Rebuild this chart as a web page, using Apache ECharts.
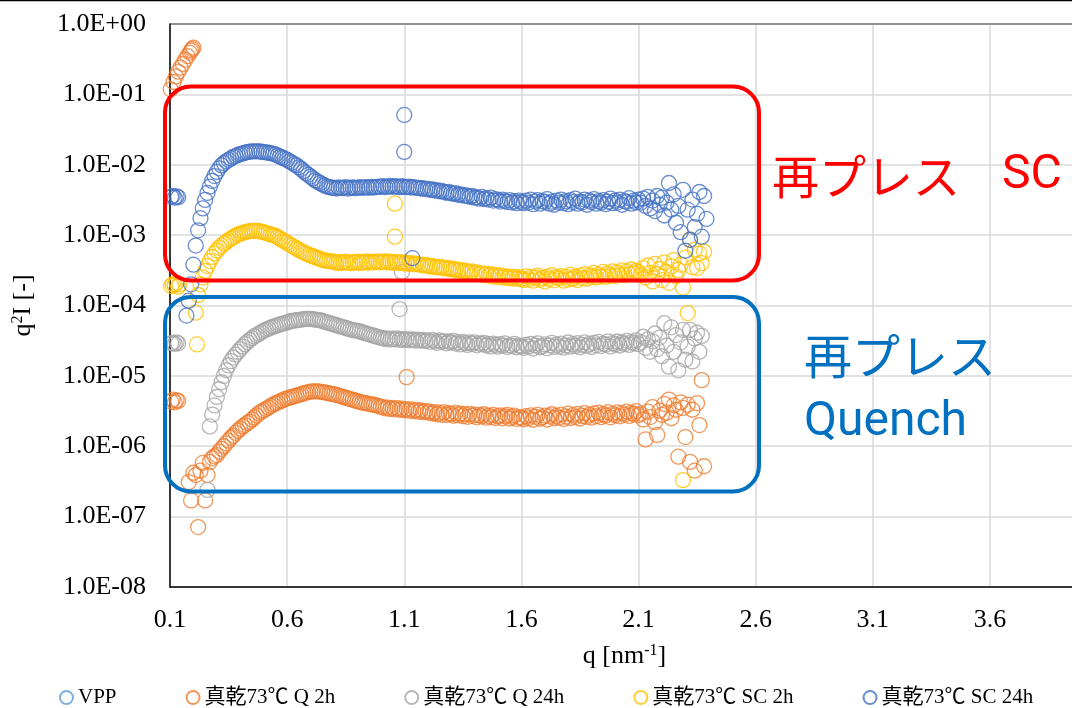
<!DOCTYPE html>
<html>
<head>
<meta charset="utf-8">
<script src="https://cdn.jsdelivr.net/npm/echarts@6/dist/echarts.min.js"></script>
<style>
html,body{margin:0;padding:0;background:#fff;}
#c{width:1072px;height:708px;}
</style>
</head>
<body>
<div id="c"></div>
<script>
// Shared q grid [nm^-1]
const Q = [
 0.17,0.18,0.19,0.20,0.21,0.22,0.23,0.24,0.25,0.26,
 0.27,0.28,0.29,0.30,0.31,0.32,0.33,0.34,0.35,0.36,
 0.37,0.38,0.39,0.40,0.41,0.42,0.43,0.44,0.45,0.46,
 0.47,0.48,0.49,0.50,0.51,0.52,0.53,0.54,0.55,0.56,
 0.57,0.58,0.59,0.60,0.61,0.62,0.63,0.64,0.65,0.66,
 0.67,0.68,0.69,0.70,0.71,0.72,0.73,0.74,0.75,0.76,
 0.77,0.78,0.79,0.80,0.81,0.82,0.83,0.84,0.85,0.86,
 0.87,0.88,0.89,0.90,0.91,0.92,0.93,0.94,0.95,0.96,
 0.97,0.98,0.99,1.00,1.01,1.02,1.03,1.04,1.05,1.06,
 1.07,1.08,1.09,1.10,1.11,1.12,1.13,1.14,1.15,1.16,
 1.17,1.18,1.19,1.20,1.21,1.22,1.23,1.24,1.25,1.26,
 1.27,1.28,1.29,1.30,1.31,1.32,1.33,1.34,1.35,1.36,
 1.37,1.38,1.39,1.40,1.41,1.42,1.43,1.44,1.45,1.46,
 1.47,1.48,1.49,1.50,1.51,1.52,1.53,1.54,1.55,1.56,
 1.57,1.58,1.59,1.60,1.61,1.62,1.63,1.64,1.65,1.66,
 1.67,1.68,1.69,1.70,1.71,1.72,1.73,1.74,1.75,1.76,
 1.77,1.78,1.79,1.80,1.81,1.82,1.83,1.84,1.85,1.86,
 1.87,1.88,1.89,1.90,1.91,1.92,1.93,1.94,1.95,1.96,
 1.97,1.98,1.99,2.00,2.01,2.02,2.03,2.04,2.05,2.06,
 2.07,2.08,2.09,2.10,2.11,2.12,2.13,2.14,2.15,2.16,
 2.17,2.18,2.19,2.20,2.21,2.22,2.23,2.24,2.25,2.26,
 2.27,2.28,2.29,2.30,2.31,2.32,2.33,2.34,2.35,2.36,
 2.37,2.38,2.39
];

// 真乾73℃ Q 2h (orange)
const Q2h = [
 null,3.1e-7,1.7e-7,4.2e-7,3.9e-7,7.1e-8,4.5e-7,5.8e-7,1.7e-7,3.9e-7,
 6.0e-7,6.8e-7,7.2e-7,7.5e-7,8.4e-7,9.2e-7,1.00e-6,1.10e-6,1.20e-6,1.32e-6,
 1.41e-6,1.55e-6,1.66e-6,1.78e-6,1.91e-6,2.00e-6,2.14e-6,2.24e-6,2.40e-6,2.57e-6,
 2.75e-6,2.95e-6,3.09e-6,3.24e-6,3.39e-6,3.55e-6,3.72e-6,3.89e-6,4.07e-6,4.17e-6,
 4.37e-6,4.47e-6,4.68e-6,4.79e-6,4.90e-6,5.01e-6,5.13e-6,5.25e-6,5.37e-6,5.50e-6,
 5.62e-6,5.75e-6,5.89e-6,5.96e-6,6.03e-6,6.03e-6,6.03e-6,5.96e-6,5.89e-6,5.82e-6,
 5.75e-6,5.62e-6,5.56e-6,5.50e-6,5.37e-6,5.25e-6,5.13e-6,5.01e-6,4.90e-6,4.79e-6,
 4.68e-6,4.57e-6,4.47e-6,4.37e-6,4.27e-6,4.17e-6,4.12e-6,4.07e-6,3.98e-6,3.94e-6,
 3.89e-6,3.80e-6,3.72e-6,3.63e-6,3.60e-6,3.45e-6,3.55e-6,3.38e-6,3.50e-6,3.35e-6,
 3.48e-6,3.30e-6,3.42e-6,3.25e-6,3.38e-6,3.20e-6,3.35e-6,3.15e-6,3.28e-6,3.10e-6,
 3.22e-6,3.05e-6,3.18e-6,3.02e-6,3.10e-6,2.92e-6,3.05e-6,2.85e-6,3.00e-6,2.80e-6,
 3.02e-6,2.78e-6,2.95e-6,2.88e-6,2.72e-6,2.98e-6,2.76e-6,2.90e-6,2.68e-6,2.85e-6,
 2.62e-6,2.88e-6,2.70e-6,2.82e-6,2.58e-6,2.78e-6,2.65e-6,2.85e-6,2.55e-6,2.72e-6,
 2.60e-6,2.80e-6,2.52e-6,2.68e-6,2.75e-6,2.50e-6,2.66e-6,2.78e-6,2.48e-6,2.62e-6,
 2.72e-6,2.45e-6,2.60e-6,2.55e-6,2.42e-6,2.68e-6,2.50e-6,2.75e-6,2.38e-6,2.62e-6,
 2.80e-6,2.46e-6,2.58e-6,2.72e-6,2.40e-6,2.66e-6,2.85e-6,2.50e-6,2.70e-6,2.55e-6,
 2.82e-6,2.45e-6,2.64e-6,2.90e-6,2.52e-6,2.76e-6,2.60e-6,2.88e-6,2.48e-6,2.70e-6,
 2.95e-6,2.62e-6,2.80e-6,2.55e-6,2.92e-6,2.68e-6,3.00e-6,2.60e-6,2.85e-6,2.72e-6,
 3.05e-6,2.58e-6,2.88e-6,2.75e-6,3.02e-6,2.66e-6,2.95e-6,2.80e-6,3.10e-6,2.70e-6,
 2.98e-6,2.85e-6,3.15e-6,2.78e-6,2.9e-6,2.4e-6,1.25e-6,3.1e-6,2.6e-6,3.6e-6,
 2.2e-6,1.45e-6,3.2e-6,2.8e-6,4.0e-6,3.0e-6,4.6e-6,2.5e-6,3.8e-6,3.3e-6,
 7.1e-7,4.2e-6,3.5e-6,1.35e-6,3.9e-6,6.0e-7,3.3e-6,4.5e-7,4.1e-6,2.0e-6,
 8.7e-6,5.2e-7,null
];
const Q2hExtra = [
 [0.103,0.118],[0.115,0.15],[0.125,0.18],[0.135,0.21],[0.145,0.24],[0.155,0.27],
 [0.165,0.31],[0.175,0.35],[0.185,0.39],[0.19,0.42],[0.195,0.44],[0.20,0.46],
 [0.105,4.3e-6],[0.112,4.6e-6],[0.12,4.2e-6],[0.128,4.5e-6],[0.135,4.4e-6],
 [1.11,9.6e-6]
];

// 真乾73℃ Q 24h (gray)
const Q24h = [
 null,null,null,null,null,null,null,null,null,null,
 1.91e-6,2.82e-6,3.80e-6,5.01e-6,6.46e-6,8.13e-6,1.00e-5,1.20e-5,1.41e-5,1.62e-5,
 1.82e-5,2.00e-5,2.19e-5,2.40e-5,2.60e-5,2.82e-5,3.02e-5,3.24e-5,3.43e-5,3.63e-5,
 3.80e-5,3.98e-5,4.17e-5,4.37e-5,4.52e-5,4.68e-5,4.84e-5,5.01e-5,5.13e-5,5.25e-5,
 5.37e-5,5.50e-5,5.62e-5,5.75e-5,5.89e-5,6.03e-5,6.10e-5,6.17e-5,6.24e-5,6.31e-5,
 6.38e-5,6.46e-5,6.46e-5,6.46e-5,6.38e-5,6.31e-5,6.24e-5,6.17e-5,6.03e-5,5.89e-5,
 5.75e-5,5.62e-5,5.50e-5,5.37e-5,5.25e-5,5.13e-5,5.01e-5,4.90e-5,4.79e-5,4.68e-5,
 4.57e-5,4.47e-5,4.42e-5,4.37e-5,4.27e-5,4.17e-5,4.07e-5,3.98e-5,3.89e-5,3.80e-5,
 3.72e-5,3.63e-5,3.55e-5,3.47e-5,3.45e-5,3.32e-5,3.40e-5,3.28e-5,3.38e-5,3.30e-5,
 3.42e-5,3.25e-5,3.35e-5,3.22e-5,3.33e-5,3.20e-5,3.30e-5,3.26e-5,3.15e-5,3.28e-5,
 3.18e-5,3.24e-5,3.12e-5,3.20e-5,3.05e-5,3.25e-5,3.10e-5,2.95e-5,3.18e-5,3.02e-5,
 3.12e-5,2.90e-5,3.08e-5,2.98e-5,3.15e-5,2.88e-5,3.02e-5,2.80e-5,3.05e-5,2.92e-5,
 2.75e-5,2.98e-5,2.85e-5,3.00e-5,2.72e-5,2.90e-5,2.82e-5,2.95e-5,2.70e-5,2.85e-5,
 2.62e-5,2.88e-5,2.75e-5,2.60e-5,2.82e-5,2.68e-5,2.90e-5,2.58e-5,2.72e-5,2.65e-5,
 2.85e-5,2.55e-5,2.70e-5,2.62e-5,2.50e-5,2.75e-5,2.60e-5,2.85e-5,2.45e-5,2.70e-5,
 2.90e-5,2.55e-5,2.65e-5,2.80e-5,2.48e-5,2.72e-5,2.95e-5,2.58e-5,2.78e-5,2.62e-5,
 2.88e-5,2.52e-5,2.70e-5,2.98e-5,2.60e-5,2.82e-5,2.66e-5,2.92e-5,2.55e-5,2.75e-5,
 3.00e-5,2.68e-5,2.85e-5,2.58e-5,2.95e-5,2.72e-5,3.05e-5,2.65e-5,2.88e-5,2.78e-5,
 3.10e-5,2.62e-5,2.92e-5,2.80e-5,3.08e-5,2.70e-5,2.98e-5,2.85e-5,3.15e-5,2.75e-5,
 3.02e-5,2.90e-5,3.20e-5,2.82e-5,3.0e-5,3.6e-5,2.5e-5,3.3e-5,2.2e-5,3.1e-5,
 4.0e-5,2.4e-5,3.5e-5,1.9e-5,5.6e-5,2.7e-5,1.35e-5,4.9e-5,2.2e-5,3.8e-5,
 1.2e-5,3.0e-5,4.5e-5,1.7e-5,2.6e-5,4.5e-5,1.6e-5,3.4e-5,4.1e-5,2.2e-5,
 3.7e-5,null,null
];
const Q24hExtra = [
 [0.105,2.9e-5],[0.112,2.95e-5],[0.12,2.85e-5],[0.128,3.0e-5],[0.135,2.9e-5],
 [0.26,2.4e-7],[1.08,8.9e-5],[1.09,3.0e-4]
];

// 真乾73℃ SC 2h (yellow)
const SC2h = [
 null,null,null,null,7.9e-5,1.41e-4,2.0e-4,2.51e-4,3.09e-4,3.63e-4,
 4.27e-4,4.90e-4,5.50e-4,6.03e-4,6.61e-4,7.08e-4,7.59e-4,7.94e-4,8.51e-4,8.91e-4,
 9.33e-4,9.77e-4,1.02e-3,1.05e-3,1.07e-3,1.10e-3,1.12e-3,1.14e-3,1.15e-3,1.15e-3,
 1.15e-3,1.14e-3,1.12e-3,1.10e-3,1.07e-3,1.05e-3,1.02e-3,1.00e-3,9.77e-4,9.33e-4,
 8.91e-4,8.51e-4,8.13e-4,7.76e-4,7.41e-4,7.08e-4,6.76e-4,6.46e-4,6.17e-4,5.89e-4,
 5.69e-4,5.50e-4,5.31e-4,5.13e-4,5.01e-4,4.84e-4,4.73e-4,4.57e-4,4.47e-4,4.37e-4,
 4.32e-4,4.27e-4,4.22e-4,4.17e-4,4.05e-4,4.15e-4,4.00e-4,4.10e-4,4.20e-4,4.05e-4,
 3.98e-4,4.12e-4,4.08e-4,4.20e-4,4.00e-4,4.15e-4,4.10e-4,4.22e-4,4.05e-4,4.18e-4,
 4.12e-4,4.25e-4,4.10e-4,4.20e-4,4.15e-4,4.25e-4,4.10e-4,4.20e-4,4.05e-4,4.18e-4,
 4.10e-4,4.00e-4,4.12e-4,3.95e-4,4.05e-4,3.90e-4,4.00e-4,3.85e-4,3.92e-4,3.85e-4,
 3.75e-4,3.82e-4,3.68e-4,3.72e-4,3.58e-4,3.65e-4,3.50e-4,3.55e-4,3.45e-4,3.52e-4,
 3.38e-4,3.42e-4,3.30e-4,3.36e-4,3.22e-4,3.28e-4,3.15e-4,3.20e-4,3.08e-4,3.12e-4,
 3.02e-4,2.98e-4,3.05e-4,2.90e-4,2.95e-4,2.78e-4,2.88e-4,2.70e-4,2.82e-4,2.65e-4,
 2.78e-4,2.58e-4,2.72e-4,2.55e-4,2.68e-4,2.50e-4,2.62e-4,2.45e-4,2.58e-4,2.42e-4,
 2.55e-4,2.40e-4,2.52e-4,2.38e-4,2.30e-4,2.60e-4,2.35e-4,2.55e-4,2.25e-4,2.50e-4,
 2.65e-4,2.32e-4,2.48e-4,2.20e-4,2.58e-4,2.38e-4,2.70e-4,2.28e-4,2.52e-4,2.42e-4,
 2.62e-4,2.25e-4,2.55e-4,2.35e-4,2.72e-4,2.40e-4,2.58e-4,2.30e-4,2.66e-4,2.45e-4,
 2.80e-4,2.40e-4,2.70e-4,2.55e-4,2.90e-4,2.50e-4,2.75e-4,2.60e-4,3.00e-4,2.55e-4,
 2.85e-4,2.65e-4,3.05e-4,2.62e-4,2.95e-4,2.72e-4,3.15e-4,2.70e-4,3.05e-4,2.80e-4,
 3.25e-4,2.85e-4,3.10e-4,3.00e-4,2.7e-4,3.4e-4,2.5e-4,3.7e-4,2.9e-4,2.2e-4,
 3.9e-4,2.8e-4,3.3e-4,2.3e-4,4.1e-4,3.0e-4,2.1e-4,3.6e-4,4.4e-4,2.6e-4,
 3.2e-4,3.8e-4,1.8e-4,4.8e-4,7.8e-5,8.6e-4,3.5e-4,6.2e-4,3.4e-4,5.5e-4,
 4.0e-4,5.8e-4,null
];
const SC2hExtra = [
 [0.105,1.9e-4],[0.112,2.0e-4],[0.12,1.95e-4],[0.128,2.1e-4],[0.135,1.85e-4],[0.14,2.0e-4],
 [0.215,2.8e-5],[1.06,2.8e-3],[1.06,9.5e-4],[2.29,3.3e-7]
];

// 真乾73℃ SC 24h (dark blue)
const SC24h = [
 7.2e-5,1.17e-4,2.0e-4,3.8e-4,7.1e-4,1.17e-3,1.74e-3,2.4e-3,3.16e-3,3.98e-3,
 4.9e-3,5.9e-3,6.9e-3,7.9e-3,8.9e-3,9.8e-3,1.05e-2,1.12e-2,1.17e-2,1.23e-2,
 1.29e-2,1.33e-2,1.38e-2,1.41e-2,1.45e-2,1.48e-2,1.51e-2,1.53e-2,1.55e-2,1.55e-2,
 1.55e-2,1.55e-2,1.53e-2,1.51e-2,1.50e-2,1.48e-2,1.46e-2,1.43e-2,1.40e-2,1.35e-2,
 1.30e-2,1.26e-2,1.22e-2,1.17e-2,1.12e-2,1.07e-2,1.02e-2,9.8e-3,9.2e-3,8.7e-3,
 8.1e-3,7.6e-3,7.2e-3,6.8e-3,6.4e-3,6.0e-3,5.75e-3,5.5e-3,5.25e-3,5.07e-3,
 4.9e-3,4.8e-3,4.73e-3,4.68e-3,4.6e-3,4.75e-3,4.65e-3,4.7e-3,4.8e-3,4.6e-3,
 4.7e-3,4.75e-3,4.65e-3,4.7e-3,4.8e-3,4.7e-3,4.75e-3,4.8e-3,4.7e-3,4.85e-3,
 4.75e-3,4.8e-3,4.9e-3,4.85e-3,4.95e-3,4.8e-3,4.9e-3,5.0e-3,4.85e-3,4.95e-3,
 4.9e-3,4.8e-3,4.95e-3,4.85e-3,4.8e-3,4.9e-3,4.75e-3,4.8e-3,4.7e-3,4.7e-3,
 4.6e-3,4.65e-3,4.5e-3,4.55e-3,4.4e-3,4.45e-3,4.3e-3,4.35e-3,4.2e-3,4.25e-3,
 4.1e-3,4.0e-3,4.1e-3,3.95e-3,3.85e-3,3.95e-3,3.75e-3,3.8e-3,3.65e-3,3.7e-3,
 3.6e-3,3.5e-3,3.6e-3,3.4e-3,3.45e-3,3.3e-3,3.5e-3,3.25e-3,3.35e-3,3.2e-3,
 3.4e-3,3.1e-3,3.25e-3,3.15e-3,3.0e-3,3.2e-3,3.05e-3,2.95e-3,3.15e-3,2.9e-3,
 3.05e-3,2.85e-3,3.1e-3,2.95e-3,2.85e-3,3.1e-3,2.9e-3,3.2e-3,2.75e-3,3.0e-3,
 3.15e-3,2.8e-3,3.05e-3,2.95e-3,3.25e-3,2.8e-3,3.0e-3,2.7e-3,3.1e-3,2.9e-3,
 3.2e-3,2.85e-3,3.05e-3,2.75e-3,3.15e-3,2.95e-3,3.3e-3,2.8e-3,3.0e-3,2.9e-3,
 3.2e-3,2.7e-3,3.1e-3,2.95e-3,3.25e-3,2.8e-3,3.05e-3,2.9e-3,3.15e-3,2.75e-3,
 3.0e-3,3.3e-3,2.85e-3,3.1e-3,2.9e-3,3.2e-3,2.7e-3,3.05e-3,2.95e-3,3.35e-3,
 2.8e-3,3.1e-3,2.9e-3,3.2e-3,2.9e-3,3.3e-3,2.6e-3,3.5e-3,2.4e-3,3.1e-3,
 2.2e-3,3.6e-3,2.7e-3,3.4e-3,1.9e-3,2.9e-3,5.5e-3,2.3e-3,3.8e-3,1.5e-3,
 2.6e-3,1.1e-3,4.4e-3,6.0e-4,2.3e-3,8.6e-4,3.2e-3,1.3e-3,2.0e-3,4.1e-3,
 9.5e-4,3.6e-3,1.7e-3
];
const SC24hExtra = [
 [0.105,3.5e-3],[0.112,3.6e-3],[0.12,3.4e-3],[0.128,3.55e-3],[0.135,3.45e-3],
 [1.1,5.1e-2],[1.1,1.52e-2],[1.135,4.7e-4]
];

const VPP = [];

const SERIES_NAMES = ['VPP','真乾73℃ Q 2h','真乾73℃ Q 24h','真乾73℃ SC 2h','真乾73℃ SC 24h'];
const COLORS = ['#5B9BD5','#ED7D31','#A5A5A5','#FFC000','#4472C4'];

function pairs(vals, extra) {
  const out = [];
  for (let i = 0; i < Q.length && i < vals.length; i++) {
    if (vals[i] != null) out.push([Q[i], vals[i]]);
  }
  return out.concat(extra || []);
}
const DATA = [
  VPP,
  pairs(Q2h, Q2hExtra),
  pairs(Q24h, Q24hExtra),
  pairs(SC2h, SC2hExtra),
  pairs(SC24h, SC24hExtra)
];

const SERIF = "'Liberation Serif', 'Times New Roman', 'Noto Sans CJK JP', serif";
const JP = "'Noto Sans CJK JP', sans-serif";
const LATIN = "Roboto, 'Noto Sans CJK JP', sans-serif";

const chart = echarts.init(document.getElementById('c'), null, {renderer: 'canvas'});
const option = {
  animation: false,
  backgroundColor: '#ffffff',
  grid: {left: 170, top: 24, width: 937, height: 563, containLabel: false, outerBoundsMode: 'none'},
  legend: {
    data: SERIES_NAMES,
    left: 54, top: 682,
    icon: 'circle',
    itemWidth: 13, itemHeight: 13, itemGap: 69,
    textStyle: {fontFamily: SERIF, fontSize: 21, color: '#000'}
  },
  xAxis: {
    type: 'value', min: 0.1, max: 4.1, interval: 0.5,
    axisLine: {onZero: false, lineStyle: {color: '#000', width: 1.5}},
    axisTick: {show: false},
    splitLine: {show: true, lineStyle: {color: '#d9d9d9', width: 1.5}},
    axisLabel: {fontFamily: SERIF, fontSize: 26, color: '#000', margin: 20,
      formatter: v => v.toFixed(1)},
    name: '{n|q [nm}{s|-1}{n|]}',
    nameLocation: 'middle', nameGap: 56,
    nameTextStyle: {padding: [0, 28, 0, 0],
      rich: {n: {fontFamily: SERIF, fontSize: 26, color: '#000'},
             s: {fontFamily: SERIF, fontSize: 16, color: '#000', verticalAlign: 'top'}}}
  },
  yAxis: {
    type: 'log', logBase: 10, min: 1e-8, max: 1, splitNumber: 8,
    axisLine: {show: true, lineStyle: {color: '#000', width: 1.5}},
    axisTick: {show: false},
    minorTick: {show: false},
    splitLine: {show: true, lineStyle: {color: '#d9d9d9', width: 1.5}},
    axisLabel: {fontFamily: SERIF, fontSize: 26, color: '#000', margin: 24,
      formatter: v => {
        const e = Math.round(Math.log10(v));
        const a = Math.abs(e);
        return '1.0E' + (e >= 0 ? '+' : '-') + (a < 10 ? '0' + a : '' + a);
      }},
    name: '{n|q}{s|2}{n|I [-]}',
    nameLocation: 'middle', nameGap: 134,
    nameTextStyle: {
      rich: {n: {fontFamily: SERIF, fontSize: 26, color: '#000'},
             s: {fontFamily: SERIF, fontSize: 16, color: '#000', verticalAlign: 'top'}}}
  },
  series: SERIES_NAMES.map((name, k) => ({
    name: name,
    type: 'scatter',
    data: DATA[k],
    symbol: 'circle',
    symbolSize: 15,
    itemStyle: {color: 'rgba(255,255,255,0)', borderColor: COLORS[k], borderWidth: 1.3},
    emphasis: {disabled: true},
    z: 2 + k
  })),
  graphic: [
    {type: 'line', z: 100, shape: {x1: 0, y1: 0.5, x2: 1072, y2: 0.5}, style: {stroke: '#000', lineWidth: 1.5}},
    {type: 'line', z: 100, shape: {x1: 170, y1: 24, x2: 1072, y2: 24}, style: {stroke: '#404040', lineWidth: 1.2}},
    {type: 'rect', z: 100, shape: {x: 165, y: 86.5, width: 594, height: 194, r: 26},
      style: {fill: 'none', stroke: '#FF0000', lineWidth: 4}},
    {type: 'rect', z: 100, shape: {x: 165, y: 297, width: 594, height: 194.5, r: 26},
      style: {fill: 'none', stroke: '#0070C0', lineWidth: 4}},
    {type: 'text', z: 101, x: 772, y: 176,
      style: {text: '再プレス', fontFamily: JP, fontSize: 47, fill: '#FF0000', align: 'left', verticalAlign: 'middle'}},
    {type: 'text', z: 101, x: 1002, y: 176,
      style: {text: 'SC', fontFamily: LATIN, fontSize: 48, fill: '#FF0000', align: 'left', verticalAlign: 'middle'}},
    {type: 'text', z: 101, x: 804, y: 356,
      style: {text: '再プレス', fontFamily: JP, fontSize: 48, fill: '#0070C0', align: 'left', verticalAlign: 'middle'}},
    {type: 'text', z: 101, x: 804, y: 423,
      style: {text: 'Quench', fontFamily: LATIN, fontSize: 48, fill: '#0070C0', align: 'left', verticalAlign: 'middle'}}
  ]
};
chart.setOption(option);
</script>
</body>
</html>
